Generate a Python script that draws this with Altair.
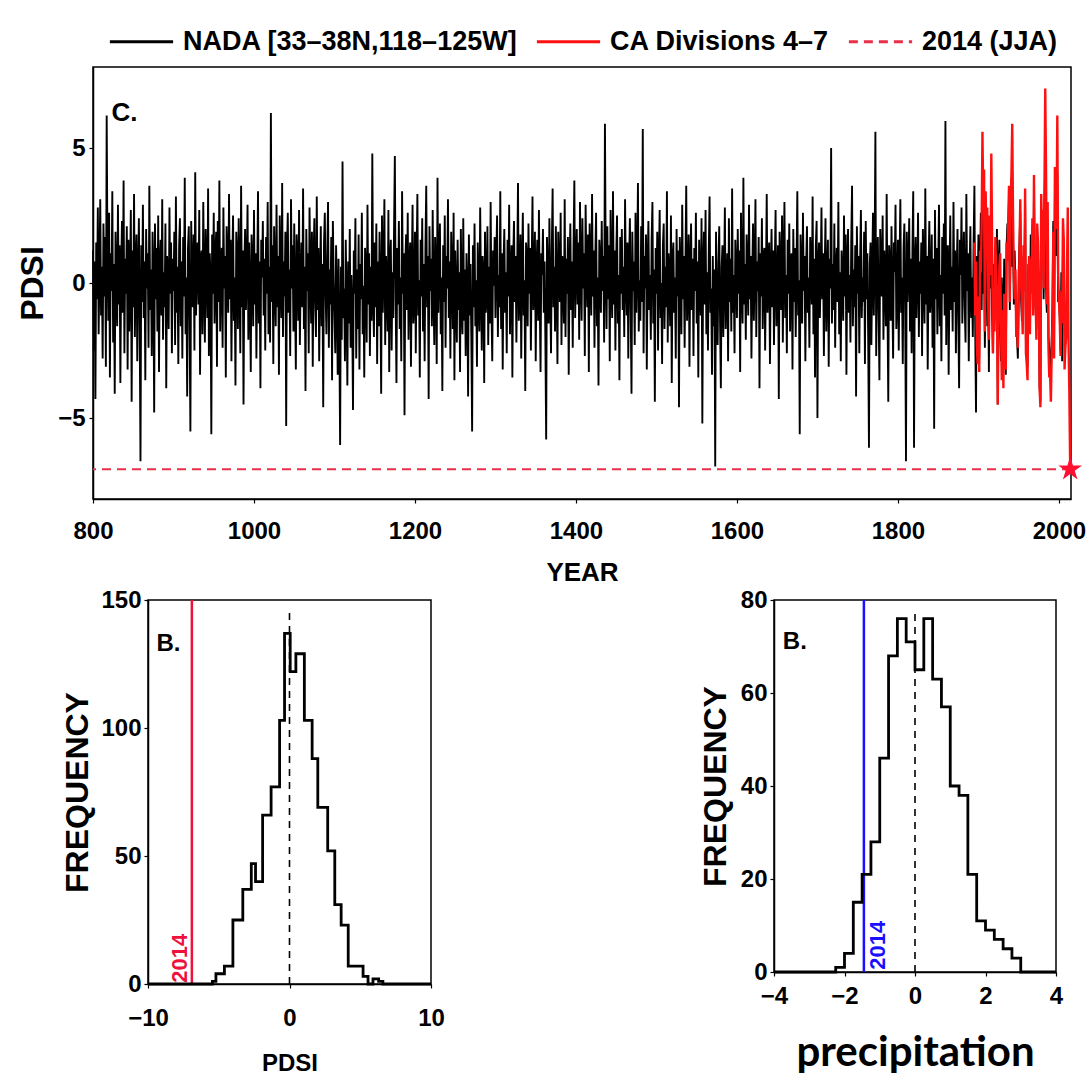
import altair as alt
import pandas as pd

# ---------------- data ----------------
NADA_START = 800
nada = [
 1.2,-2.5,0.8,-4.3,1.5,-0.6,2.8,-1.9,0.4,3.1,
 -1.2,0.6,-2.8,2.2,-0.5,1.7,-3.1,6.2,0.9,-1.4,
 2.6,-3.5,1.1,-0.3,3.4,-2.2,0.7,-4.1,1.9,0.2,
 -1.6,2.9,-0.8,1.4,-3.7,0.5,2.3,-1.1,3.8,-2.6,
 0.9,-0.4,2.1,-3.2,1.6,-1.8,0.3,2.7,-4.4,1.2,
 -0.9,3.3,-2.0,0.6,1.8,-2.9,0.1,2.4,-1.5,-6.6,
 1.4,-0.7,2.9,-1.3,0.8,-3.6,2.0,-0.2,1.1,-2.4,
 3.6,-1.0,0.5,-2.7,1.9,0.3,-4.8,2.2,-0.6,1.3,
 -1.8,2.5,-3.3,0.7,1.6,-1.2,3.1,-2.1,0.4,-0.9,
 2.2,-3.9,1.0,0.2,-1.7,2.8,-0.4,1.5,-2.6,0.9,
 -0.3,1.9,-2.3,3.2,-1.1,0.6,-3.0,1.4,2.4,-1.6,
 0.8,-2.8,1.7,-0.5,3.9,-1.9,0.2,-4.2,1.3,2.1,
 -1.4,-5.5,2.3,0.4,-0.9,1.8,-2.5,4.1,-1.2,0.7,
 1.5,-0.8,2.7,-3.4,0.9,1.2,-1.9,3.0,-0.1,-2.2,
 2.0,0.5,-1.3,3.5,-2.7,1.1,0.3,-5.6,1.8,-0.4,
 2.6,-1.5,0.9,1.9,-3.1,2.3,-0.7,3.8,-1.8,0.6,
 1.3,-2.4,2.8,-0.2,1.0,-3.5,2.1,0.8,-1.1,3.3,
 -0.6,1.6,-2.9,0.7,2.5,-1.4,0.2,-3.8,1.9,0.9,
 -1.7,2.4,0.1,-2.6,3.6,-0.9,1.2,-4.5,0.6,2.0,
 -1.0,0.4,2.9,-2.1,1.5,-0.3,-3.3,1.8,0.5,-1.6,
 2.7,-0.8,1.1,-2.8,0.3,3.4,-1.5,0.8,-3.9,1.6,
 0.2,2.3,-1.2,0.9,-2.5,1.7,-0.4,3.0,-1.9,0.6,
 -2.2,6.3,-0.7,1.4,-3.0,2.1,0.4,-1.6,2.9,-0.9,
 1.0,-3.4,2.5,0.1,-1.3,3.7,-2.0,0.8,-0.5,1.9,
 -5.3,1.2,2.6,-1.1,0.5,-2.7,3.1,-0.2,1.4,-1.8,
 2.2,-0.6,-3.2,1.8,0.9,-1.4,2.7,-2.3,0.3,1.5,
 -0.9,3.5,-1.7,0.6,-4.0,2.0,-0.3,1.1,-2.6,2.8,
 0.4,-1.5,1.9,-3.1,0.8,2.4,-0.7,-2.0,3.2,-1.0,
 1.3,-2.9,0.2,2.1,-1.6,0.7,-4.6,1.5,2.6,-0.4,
 -1.9,1.0,3.0,-2.4,0.5,-0.8,1.7,-3.6,2.3,0.1,
 -1.2,-2.6,1.4,-0.5,-3.4,0.9,-1.8,-6.0,0.6,-2.1,
 4.5,-1.3,-0.2,-2.9,1.6,-0.7,-3.8,0.8,-1.5,2.0,
 -2.4,0.3,-1.0,-4.7,1.2,-0.4,2.4,-2.8,0.5,-1.7,
 1.8,-3.2,0.7,-0.6,2.6,-1.9,-0.1,-3.5,1.3,0.4,
 -2.2,2.9,-0.8,1.1,-2.7,0.6,-1.4,4.8,-0.5,-2.0,
 1.5,-0.9,2.2,-3.0,0.8,-1.6,1.9,-0.3,-4.1,2.5,
 -1.1,0.5,3.1,-2.3,1.0,-0.2,-1.8,2.7,-3.3,0.9,
 1.6,-2.5,0.4,-1.3,2.0,4.7,-0.6,-3.7,1.3,-0.8,
 2.3,-1.7,0.2,-2.9,3.4,-0.4,1.1,-4.9,0.7,1.8,
 -1.0,2.6,-2.1,0.6,1.5,-3.1,0.3,2.9,-1.5,-0.7,
 1.9,-2.6,0.8,3.3,-1.2,0.1,-3.5,1.6,-0.5,2.4,
 -1.8,0.7,-2.9,1.3,3.6,-0.9,1.0,-4.3,2.1,-0.3,
 0.9,-1.6,2.7,-0.4,-2.3,1.7,0.4,-3.0,3.9,-1.1,
 0.6,2.2,-1.9,0.2,-4.0,1.4,-0.7,2.5,-2.4,1.0,
 -0.2,3.1,-1.3,0.8,-2.8,1.9,0.3,-1.7,2.6,-3.6,
 1.2,-0.5,-2.2,1.6,-1.0,0.4,-3.3,2.0,-0.8,-1.9,
 2.4,-1.4,0.5,-2.7,1.1,-0.3,-4.2,1.8,-1.2,0.7,
 -2.0,-5.5,1.4,-0.9,2.2,-1.6,0.1,-3.1,1.5,-0.6,
 -1.8,2.8,-0.2,-2.5,1.0,0.4,-3.7,1.9,-1.1,-0.4,
 2.1,-2.3,0.6,-1.5,3.0,-0.8,-2.9,1.2,-0.1,1.7,
 -1.3,0.9,2.5,-2.0,0.3,-0.9,3.4,-1.7,1.1,-3.2,
 0.7,2.0,-1.1,0.4,-2.6,1.6,-0.5,2.9,-1.9,0.2,
 1.4,-3.5,0.8,2.3,-0.7,1.0,-2.2,0.5,3.7,-1.4,
 -0.3,1.8,-2.8,0.6,2.6,-1.2,0.1,-4.0,1.5,0.9,
 -1.6,2.2,-0.4,1.3,-2.5,0.7,3.2,-1.0,-0.2,1.9,
 -2.9,0.5,1.6,-1.4,2.7,-0.6,-3.3,1.1,0.3,2.0,
 -1.1,0.8,-2.1,-5.8,1.7,0.2,-1.5,2.4,-0.3,-2.6,
 1.3,3.5,-0.9,0.6,-1.8,2.1,-0.1,-3.0,1.9,0.4,
 -0.7,2.6,-2.3,1.0,0.2,-1.5,3.1,-2.0,0.9,-0.4,
 1.7,-3.4,0.5,2.2,-1.0,0.8,-2.4,1.4,3.8,-1.3,
 0.6,2.0,-0.8,1.5,-2.1,3.0,0.3,-1.4,2.4,-0.2,
 1.1,-2.7,2.9,0.4,-0.9,1.8,-3.3,2.2,0.7,-1.2,
 3.3,-0.5,1.2,-2.4,0.9,2.6,-1.6,0.2,-3.8,1.6,
 0.8,-1.1,2.3,-0.3,1.0,-2.2,5.9,0.5,-1.7,2.1,
 -0.6,1.4,-2.9,2.7,0.1,-1.3,3.4,-0.8,1.2,-2.5,
 0.9,2.5,-1.5,0.3,-3.6,1.7,-0.4,2.0,-1.0,0.6,
 -2.0,3.1,0.2,-1.2,1.5,-2.8,0.7,2.4,-0.9,-4.1,
 1.9,-0.3,0.8,-2.3,2.6,-1.1,0.4,3.7,-1.8,0.1,
 -1.4,2.1,-0.7,5.7,-2.6,1.0,-0.2,1.8,-3.2,0.6,
 2.3,-1.0,0.3,-2.1,1.6,3.0,-1.5,0.5,-4.4,1.3,
 -0.4,1.9,-2.5,0.8,2.7,-1.3,0.0,-3.0,1.4,2.2,
 -1.7,0.6,-0.9,3.4,-2.2,1.1,0.3,-1.6,2.5,-3.7,
 0.9,1.5,-1.1,0.2,-2.8,2.0,-0.5,1.2,-4.6,1.7,
 0.4,-1.9,2.9,-0.6,1.0,-2.4,0.7,3.6,-1.4,-0.1,
 1.8,-3.1,0.5,2.2,-1.0,0.9,-2.7,1.3,-0.3,2.6,
 -1.5,0.8,-3.5,1.6,0.1,-1.2,2.4,-5.2,0.6,1.9,
 -0.8,2.7,-1.9,0.4,-2.5,1.2,3.2,-1.1,-0.2,-3.4,
 1.0,-1.6,0.5,-6.8,1.9,-0.9,-2.3,0.7,2.1,-1.4,
 -3.9,0.6,1.4,-2.0,0.2,2.8,-1.7,-0.4,1.1,-2.9,
 2.4,-0.7,0.9,-1.8,3.5,-1.1,0.3,-2.6,1.6,0.5,
 -1.3,2.0,-0.4,1.2,-3.3,2.6,0.1,-1.5,3.9,-0.8,
 0.7,-2.1,1.8,0.4,-1.2,2.9,-0.6,1.0,-2.8,0.3,
 2.2,-1.4,0.6,3.1,-2.0,0.8,-0.3,1.7,-3.9,1.1,
 -0.5,2.4,-1.7,0.9,1.3,-2.5,0.2,3.3,-1.1,0.6,
 1.5,-3.0,0.4,2.0,-0.9,1.2,-2.3,0.7,2.7,-1.6,
 -0.2,1.4,-4.3,1.9,0.5,-1.0,2.5,-2.2,0.8,3.0,
 -1.3,0.3,-2.6,1.6,-0.4,2.2,-1.8,0.9,1.1,-3.2,
 2.0,-0.7,1.3,-2.0,0.6,3.4,-1.2,0.1,-5.6,1.8,
 0.4,-1.5,2.6,-0.3,1.0,-2.9,0.7,2.1,-1.1,0.2,
 -2.4,1.7,0.5,-0.8,3.2,-1.9,0.9,-3.5,1.4,2.3,
 -5.0,0.8,1.5,-1.3,0.2,2.8,-0.6,1.1,-2.7,0.5,
 2.4,-1.8,0.3,1.6,-3.1,0.9,-0.2,5.0,-1.5,0.7,
 -1.0,2.2,-2.4,0.6,1.3,-0.7,3.0,-1.9,0.4,-2.9,
 1.2,0.1,-1.4,2.5,-0.5,1.8,-3.4,0.7,2.0,-1.1,
 0.3,-2.2,1.6,3.6,-1.6,0.5,-0.9,1.4,-4.2,2.1,
 -0.4,1.0,-2.6,0.8,2.7,-1.3,0.2,-0.7,1.9,-3.0,
 2.3,-0.6,1.1,-1.9,-6.1,0.7,1.5,-2.3,0.4,2.6,
 -1.2,0.9,5.6,-2.7,0.3,1.7,-1.0,-3.6,2.0,0.6,
 -0.5,2.5,-2.1,1.2,0.1,-1.6,3.3,-0.8,-4.4,1.4,
 0.8,-1.4,2.1,-0.3,-2.8,1.5,0.4,2.9,-1.7,-0.6,
 1.6,-2.5,0.7,3.1,-1.1,0.2,-3.0,1.3,2.2,-0.9,
 -6.6,1.9,-0.7,0.5,2.4,-1.8,0.9,-2.6,1.2,3.4,
 -6.1,0.6,1.7,-1.3,0.3,2.6,-2.0,0.8,-0.4,1.5,
 -2.7,2.0,0.2,-1.5,3.5,-0.8,1.0,-3.2,0.6,2.3,
 -1.1,-0.2,1.8,-2.4,0.9,-5.4,2.7,-0.6,1.3,-1.9,
 0.5,2.9,-1.6,0.3,-2.9,1.7,-0.4,2.2,-1.2,6.0,
 -2.3,0.8,1.4,-3.4,0.1,2.5,-1.0,0.6,-1.8,3.0,
 -0.7,1.2,-2.6,0.4,2.0,-1.4,-3.9,1.6,0.3,2.8,
 -1.5,0.7,1.9,-0.9,-2.2,3.3,-0.3,1.1,-2.9,0.5,
 2.1,-1.3,0.2,-2.0,1.5,3.6,-1.7,-4.8,1.0,-0.5,
 1.8,-2.8,0.6,2.6,-1.0,4.2,-0.4,1.3,-2.4,0.9,
 2.3,-1.6,0.4,-3.3,1.7,-0.2,2.8,-1.2,-2.6,0.7,
 -1.4,1.1,-0.7,2.0,-4.5,0.5,1.6,-1.9,-2.9,0.2,
 -1.2,-2.0,0.9,-0.5,-3.4,1.4,2.2,1.8,3.1,-1.0,
 2.0,3.9,0.6,1.7,-0.8,1.2,-0.3,-1.6,-2.1,-2.8,
 0.4,1.5,2.6,-0.6,-1.4,-0.9,1.0,-0.2,3.0,-2.2,
 -2.6,-3.1,0.7,0.3,-1.5,1.8,0.5,2.1,-1.0,3.3,
 0.2,-0.9,-1.7,1.4,0.6,-0.4,-3.8,-4.4,2.6,1.5,
 2.0,-0.6,2.9,4.5,-0.2,-1.1,1.9,-2.0,-2.4,-3.0,
 -3.3,-2.1,-0.8,2.3,-1.6,3.2,1.7,1.0,4.1,-0.7,
 -0.3,-1.2,-2.5,0.4,-2.9,1.1,
]

CA_START = 1895
ca = [
 1.5,-1.2,0.8,-2.3,-3.0,
 -0.5,-3.3,1.2,0.4,2.2,5.6,3.0,4.2,-1.8,3.4,
 1.0,2.8,-0.6,-2.1,2.5,0.3,4.8,1.6,-2.6,-0.9,
 -1.8,1.7,0.4,-0.5,-4.5,-1.2,0.6,1.1,-1.5,-3.6,
 -1.0,-3.9,-0.4,-2.2,-3.2,1.5,0.8,2.3,3.6,-0.7,
 2.8,4.0,5.9,2.4,0.3,-0.6,0.5,-2.0,-1.7,-2.4,
 -0.9,1.2,3.1,0.2,-0.8,-1.9,1.4,-0.3,3.5,-2.6,
 -3.0,-3.6,0.2,1.0,-1.9,0.9,-0.4,2.4,-1.2,4.0,
 0.6,-0.5,-2.1,2.2,1.5,-0.3,-3.9,-4.6,3.3,1.8,
 2.7,-0.2,3.4,7.2,4.1,-0.8,3.0,-2.4,-3.5,-3.3,
 -4.4,-2.6,-1.5,1.9,-2.8,4.3,2.5,2.0,6.2,0.4,
 -0.6,-1.3,-2.7,-0.3,-1.5,2.4,1.6,-3.2,-2.4,-2.0,
 0.5,2.8,-2.3,-4.2,-6.9,
]

PDSI_2014 = -6.9
PRECIP_2014 = -1.45

pdsi_edges = [-10, -5.45, -5.2, -4.6, -4.0, -3.3, -2.7, -2.4, -1.9, -1.3, -0.7,
              -0.35, 0.05, 0.45, 1.05, 1.6, 2.0, 2.7, 3.2, 3.65, 4.15, 5.2,
              5.55, 5.9, 6.3, 6.6, 10]
pdsi_counts = [0, 1, 4, 7, 25, 37, 47, 40, 66, 77, 103, 137, 122, 129, 103, 88,
               69, 52, 31, 23, 7, 3, 0, 2, 1, 0]

precip_edges = [-4, -2.25, -2.0, -1.75, -1.5, -1.25, -1.0, -0.75, -0.5, -0.25, 0.0,
                0.25, 0.5, 0.75, 1.0, 1.25, 1.5, 1.75, 2.0, 2.25, 2.5, 2.75, 3.0, 4]
precip_counts = [0, 1, 4, 15, 21, 28, 46, 68, 76, 71, 65, 76, 63, 57, 40, 38,
                 21, 11, 9, 7, 5, 3, 0]

S_NADA = "NADA [33–38N,118–125W]"
S_CA = "CA Divisions 4–7"
S_2014 = "2014 (JJA)"
SERIES = [S_NADA, S_CA, S_2014]

FONT = "Liberation Sans, Arial, sans-serif"

# ---------------- tables ----------------
df_nada = pd.DataFrame({"year": list(range(NADA_START, NADA_START + len(nada))),
                        "pdsi": nada, "series": S_NADA})
df_ca = pd.DataFrame({"year": list(range(CA_START, CA_START + len(ca))),
                      "pdsi": ca, "series": S_CA})
df_rule = pd.DataFrame({"pdsi": [PDSI_2014], "series": [S_2014]})
df_star = pd.DataFrame({"year": [CA_START + len(ca) - 1], "pdsi": [PDSI_2014]})
df_c = pd.DataFrame({"year": [823], "pdsi": [6.3], "t": ["C."]})


def step_table(edges, counts):
    xs = list(edges[:-1]) + [edges[-1]]
    ys = list(counts) + [counts[-1]]
    return pd.DataFrame({"x": xs, "n": ys})


color_scale = alt.Scale(domain=SERIES, range=["#000000", "#ff1010", "#e8304a"])
dash_scale = alt.Scale(domain=SERIES, range=[[1, 0], [1, 0], [9, 6]])
legend = alt.Legend(orient="none", legendX=15, legendY=-59, direction="horizontal",
                    columns=3, title=None, labelFont=FONT, labelFontSize=27,
                    labelFontWeight="bold", labelColor="black",
                    symbolType="M-1,0L1,0", symbolSize=4000, symbolStrokeWidth=3,
                    columnPadding=12, labelOffset=8, labelLimit=450, padding=0)

xscale_top = alt.Scale(domain=[800, 2015], nice=False)
yscale_top = alt.Scale(domain=[-8, 8], nice=False)
xs_top = alt.X("year:Q", scale=xscale_top,
               axis=alt.Axis(values=[800, 1000, 1200, 1400, 1600, 1800, 2000],
                             format="d", title="YEAR", titlePadding=16,
                             labelPadding=16, titleFontSize=26, labelFlush=False))
ys_top = alt.Y("pdsi:Q", scale=yscale_top,
               axis=alt.Axis(values=[-5, 0, 5], title="PDSI", titlePadding=8,
                             titleFontSize=32))

col = alt.Color("series:N", scale=color_scale, legend=legend)
dash = alt.StrokeDash("series:N", scale=dash_scale, legend=legend)

line_nada = alt.Chart(df_nada).mark_line(strokeWidth=1.9).encode(
    x=xs_top, y=ys_top, color=col, strokeDash=dash)
line_ca = alt.Chart(df_ca).mark_line(strokeWidth=2.4).encode(
    x=alt.X("year:Q", scale=xscale_top), y=alt.Y("pdsi:Q", scale=yscale_top),
    color=col, strokeDash=dash)
rule_2014 = alt.Chart(df_rule).mark_rule(strokeWidth=2).encode(
    y=alt.Y("pdsi:Q", scale=yscale_top), color=col, strokeDash=dash)
star = alt.Chart(df_star).mark_point(
    shape="M0,-1L0.2245,-0.309L0.951,-0.309L0.363,0.118L0.588,0.809L0,0.382L-0.588,0.809L-0.363,0.118L-0.951,-0.309L-0.2245,-0.309Z",
    size=625, filled=True, color="#ff1030", opacity=1).encode(
    x=alt.X("year:Q", scale=xscale_top), y=alt.Y("pdsi:Q", scale=yscale_top))
label_c = alt.Chart(df_c).mark_text(align="left", baseline="middle", font=FONT,
                                     fontSize=26, fontWeight="bold", color="black").encode(
    x=alt.X("year:Q", scale=xscale_top), y=alt.Y("pdsi:Q", scale=yscale_top), text="t:N")

top = alt.layer(line_nada, line_ca, rule_2014, star, label_c).properties(
    width=978, height=432)

# ---------------- histograms ----------------
def histogram(edges, counts, xdom, xvals, ydom, yvals, line_x, line_color,
              zero_top, b_pos, lbl_x, xaxis_style, yaxis_style, width, height):
    st = step_table(edges, counts)
    xenc = alt.X("x:Q", scale=alt.Scale(domain=xdom, nice=False),
                 axis=alt.Axis(values=xvals, labelFlush=False, **xaxis_style))
    yenc = alt.Y("n:Q", scale=alt.Scale(domain=ydom, nice=False),
                 axis=alt.Axis(values=yvals, title="FREQUENCY", titleFontSize=32,
                               labelPadding=3, **yaxis_style))
    steps = alt.Chart(st).mark_line(interpolate="step-after", color="black",
                                    strokeWidth=2.8).encode(x=xenc, y=yenc)
    vline = alt.Chart(pd.DataFrame({"x": [line_x]})).mark_rule(
        color=line_color, strokeWidth=2.5).encode(x="x:Q")
    zero = alt.Chart(pd.DataFrame({"x": [0], "n0": [0], "n1": [zero_top]})).mark_rule(
        color="black", strokeWidth=1.6, strokeDash=[7, 6]).encode(
        x="x:Q", y="n0:Q", y2="n1:Q")
    btxt = alt.Chart(pd.DataFrame({"x": [b_pos[0]], "n": [b_pos[1]], "t": ["B."]})).mark_text(
        align="left", baseline="middle", font=FONT, fontSize=24, fontWeight="bold",
        color="black").encode(x="x:Q", y="n:Q", text="t:N")
    ytxt = alt.Chart(pd.DataFrame({"x": [lbl_x], "n": [0.5], "t": ["2014"]})).mark_text(
        align="left", baseline="middle", angle=270, font=FONT, fontSize=22,
        fontWeight="bold", color=line_color).encode(x="x:Q", y="n:Q", text="t:N")
    return alt.layer(vline, zero, steps, btxt, ytxt).properties(width=width, height=height)


left = histogram(pdsi_edges, pdsi_counts, [-10, 10], [-10, 0, 10], [0, 150],
                 [0, 50, 100, 150], PDSI_2014, "#f0103c", 145, (-9.4, 133), -7.75,
                 {"title": "PDSI", "titlePadding": 21, "labelPadding": 18,
                  "titleFontSize": 24},
                 {"titlePadding": 6},
                 283, 384)
right = histogram(precip_edges, precip_counts, [-4, 4], [-4, -2, 0, 2, 4], [0, 80],
                  [0, 20, 40, 60, 80], PRECIP_2014, "#1a10ff", 77, (-3.75, 71), -1.05,
                  {"title": "precipitation", "titlePadding": 24, "labelPadding": 8,
                   "titleFont": "Lato", "titleFontSize": 42,
                   "titleFontWeight": "bold"},
                  {"titlePadding": 8},
                  282, 372)

# empty view that only reserves horizontal room before the histograms
spacer = alt.Chart(pd.DataFrame({"v": [0]})).mark_point(opacity=0).encode(
    x=alt.X("v:Q", axis=None), y=alt.Y("v:Q", axis=None)
).properties(width=55, height=10, view=alt.ViewBackground(strokeOpacity=0))

bottom = alt.hconcat(
    spacer,
    alt.hconcat(left, right, spacing=343, bounds="flush"),
    spacing=0, bounds="flush")

chart = alt.concat(top, bottom, columns=1, bounds="flush", spacing=101).properties(
    padding={"left": 15, "top": 8, "right": 2, "bottom": 2},
    background="white",
).configure_view(
    stroke="black", strokeWidth=1.5
).configure_axis(
    labelFont=FONT, labelFontSize=24, labelFontWeight="bold", labelColor="black",
    titleFont=FONT, titleFontSize=28, titleFontWeight="bold", titleColor="black",
    domainColor="black", domainWidth=1.5, tickColor="black", tickSize=4,
    tickWidth=1.2, grid=False, labelPadding=4
)

chart.save("out.html", embed_options={"renderer": "svg", "actions": False})
